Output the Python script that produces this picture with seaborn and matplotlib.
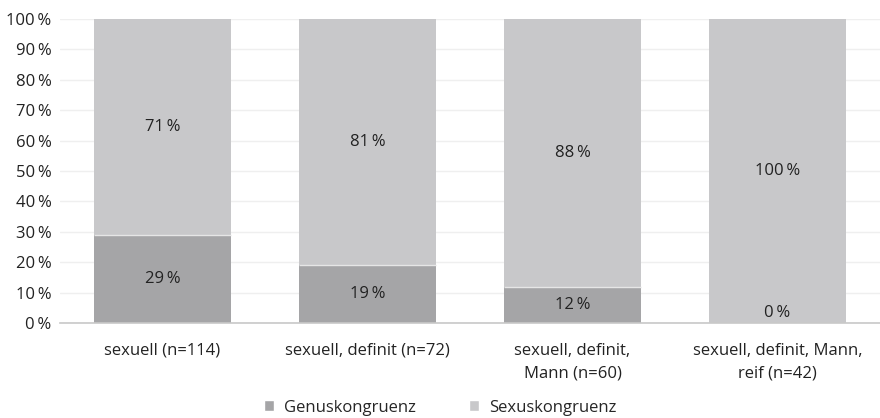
import matplotlib
matplotlib.use("Agg")
import matplotlib.pyplot as plt
import seaborn as sns
import pandas as pd
from matplotlib.patches import Patch

categories = ["sexuell (n=114)", "sexuell, definit (n=72)",
              "sexuell, definit,\nMann (n=60)", "sexuell, definit, Mann,\nreif (n=42)"]
genus = [29, 19, 12, 0]
sexus = [71, 81, 88, 100]
series = ["Genuskongruenz", "Sexuskongruenz"]
yticks = [0, 10, 20, 30, 40, 50, 60, 70, 80, 90, 100]

c_genus = "#a5a5a7"
c_sexus = "#c8c8ca"
FS = 12

sns.set_theme(style="white")
plt.rcParams['font.family'] = ['Open Sans', 'DejaVu Sans']

df = pd.DataFrame({"cat": categories, "genus": genus, "sexus": sexus})
df["total"] = df["genus"] + df["sexus"]

fig = plt.figure(figsize=(8.8, 4.18), dpi=100)
ax = fig.add_axes([0.068, 0.227, 0.932, 0.728])

sns.barplot(data=df, x="cat", y="total", color=c_sexus, width=0.67, ax=ax,
            saturation=1, edgecolor="none", linewidth=0)
sns.barplot(data=df, x="cat", y="genus", color=c_genus, width=0.67, ax=ax,
            saturation=1, edgecolor="none", linewidth=0)

for i, g in enumerate(genus):
    if g > 0:
        ax.hlines(g, i - 0.335, i + 0.335, color="#e6e6e6", lw=1, zorder=5)

for i, (g, s) in enumerate(zip(genus, sexus)):
    if g > 0:
        ax.text(i, g / 2, f"{g}\u2009%", ha="center", va="center", fontsize=FS, color="#222222")
    else:
        ax.text(i, 0.6, f"{g}\u2009%", ha="center", va="bottom", fontsize=FS, color="#222222")
    ax.text(i, g + s / 2, f"{s}\u2009%", ha="center", va="center", fontsize=FS, color="#222222")

ax.set_ylim(0, 100)
ax.set_xlim(-0.5, 3.5)
ax.set_yticks(yticks)
ax.set_yticklabels([f"{t}\u2009%" for t in yticks], fontsize=FS, color="#222222")
ax.tick_params(axis="x", labelsize=FS, colors="#222222", length=0, pad=14)
ax.tick_params(axis="y", length=0, pad=6)
for lbl in ax.get_xticklabels():
    lbl.set_linespacing(1.55)
ax.set_xlabel("")
ax.set_ylabel("")
ax.yaxis.grid(True, color="#efefef", lw=1)
ax.set_axisbelow(True)
for sp in ["top", "right", "left"]:
    ax.spines[sp].set_visible(False)
ax.spines["bottom"].set_color("#c8c8c8")
ax.spines["bottom"].set_linewidth(1.2)

handles = [Patch(facecolor=c_genus, label=series[0]), Patch(facecolor=c_sexus, label=series[1])]
fig.legend(handles=handles, loc="lower center", bbox_to_anchor=(0.5, -0.03), ncol=2,
           frameon=False, fontsize=FS, handlelength=0.6, handleheight=0.6,
           columnspacing=3.2, handletextpad=0.6)

fig.savefig("out.png", dpi=100)
